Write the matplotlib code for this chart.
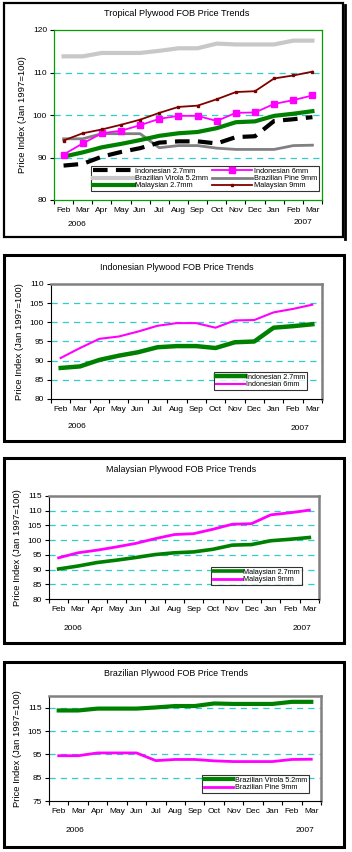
import matplotlib
matplotlib.use("Agg")
import matplotlib.pyplot as plt
from matplotlib.patches import Rectangle
from matplotlib.lines import Line2D

plt.rcParams['font.family'] = ['Liberation Sans', 'DejaVu Sans']

months = ["Feb", "Mar", "Apr", "May", "Jun", "Jul", "Aug", "Sep", "Oct", "Nov", "Dec", "Jan", "Feb", "Mar"]
years = ["2006", "2007"]

indo_27 = [88.1, 88.5, 90.2, 91.3, 92.2, 93.5, 93.8, 93.8, 93.3, 94.8, 95.0, 98.6, 99.0, 99.5]
indo_6 = [90.7, 93.3, 95.7, 96.3, 97.6, 99.1, 99.8, 99.8, 98.6, 100.5, 100.6, 102.6, 103.5, 104.6]
braz_virola = [113.8, 113.8, 114.6, 114.6, 114.6, 115.1, 115.7, 115.7, 116.8, 116.6, 116.6, 116.6, 117.5, 117.5]
braz_pine = [94.4, 94.4, 95.6, 95.6, 95.6, 92.3, 92.8, 92.8, 92.2, 91.9, 91.9, 91.9, 92.8, 92.9]
malay_27 = [90.2, 91.2, 92.4, 93.2, 94.1, 95.1, 95.7, 96.0, 96.9, 98.3, 98.5, 99.8, 100.3, 100.9]
malay_9 = [94.0, 95.7, 96.6, 97.7, 98.9, 100.5, 101.9, 102.2, 103.7, 105.4, 105.6, 108.6, 109.3, 110.2]

W, H = 352, 852
fig = plt.figure(figsize=(W / 100, H / 100), dpi=100)
fig.patch.set_facecolor('white')

x = list(range(len(months)))
FS = 6.0
TEAL = '#33cccc'


def fx(px):
    return px / W


def fy(py):
    return 1 - py / H


def add_box(x0, y0, x1, y1, lw=1.6):
    fig.patches.append(Rectangle((fx(x0), fy(y1)), fx(x1) - fx(x0), fy(y0) - fy(y1),
                                 transform=fig.transFigure, fill=False,
                                 edgecolor='black', linewidth=lw))


def make_axes(x0, y0, x1, y1):
    return fig.add_axes([fx(x0), fy(y1), fx(x1) - fx(x0), fy(y0) - fy(y1)])


def style(ax, ylim, yticks, gridvals, spine_style):
    ax.set_xlim(-0.5, len(months) - 0.5)
    ax.set_ylim(*ylim)
    ax.set_yticks(yticks)
    ax.set_yticklabels([str(v) for v in yticks], fontsize=FS)
    ax.set_xticks(x)
    ax.set_xticklabels(months, fontsize=FS)
    ax.set_xticks([i - 0.5 for i in range(len(months) + 1)], minor=True)
    ax.tick_params(axis='x', which='major', length=0, pad=5)
    ax.tick_params(axis='x', which='minor', length=3, width=0.8, direction='out')
    ax.tick_params(axis='y', length=3, width=0.8, direction='out', pad=2)
    for g in gridvals:
        ax.axhline(g, color=TEAL, lw=0.9, ls=(0, (5, 4)), zorder=0)
    if spine_style == 'green':
        for s in ax.spines.values():
            s.set_color('#00a000')
            s.set_linewidth(0.9)
    else:
        ax.spines['left'].set_color('black')
        ax.spines['bottom'].set_color('black')
        ax.spines['left'].set_linewidth(0.8)
        ax.spines['bottom'].set_linewidth(0.8)
        ax.spines['top'].set_color('#808080')
        ax.spines['right'].set_color('#808080')
        ax.spines['top'].set_linewidth(1.8)
        ax.spines['right'].set_linewidth(1.8)
    ax.set_ylabel("Price Index (Jan 1997=100)", fontsize=6.8, labelpad=4)


def legend(ax, handles, labels, x0, y0, x1, y1, ncol=1, hl=4.0, fs=5.2):
    lg = ax.legend(handles, labels, loc='center',
                   bbox_to_anchor=(fx(x0), fy(y1), fx(x1) - fx(x0), fy(y0) - fy(y1)),
                   bbox_transform=fig.transFigure, ncol=ncol, fontsize=fs,
                   frameon=True, fancybox=False, handlelength=hl, handletextpad=0.2,
                   labelspacing=0.0, columnspacing=0.5, borderpad=0.3, borderaxespad=0)
    lg.get_frame().set_edgecolor('black')
    lg.get_frame().set_linewidth(0.8)
    return lg


# ---------- Panel 1 ----------
add_box(4, 3, 343, 237)
fig.lines.append(Line2D([fx(345), fx(345)], [fy(5), fy(239)], transform=fig.transFigure, color='black', lw=2))
ax1 = make_axes(54, 30, 322, 200)
style(ax1, (80, 120), [80, 90, 100, 110, 120], [90, 100, 110], 'green')
l_i27, = ax1.plot(x, indo_27, color='black', lw=3.0, ls=(0, (3.5, 2)), zorder=3)
l_bv, = ax1.plot(x, braz_virola, color='#c8c8c8', lw=3.0, zorder=2)
l_m27, = ax1.plot(x, malay_27, color='#008000', lw=3.0, zorder=3)
l_i6, = ax1.plot(x, indo_6, color='#ff00ff', lw=1.3, marker='s', ms=4, zorder=4)
l_bp, = ax1.plot(x, braz_pine, color='#808080', lw=2.0, zorder=2)
l_m9, = ax1.plot(x, malay_9, color='#800000', lw=1.3, marker='s', ms=1.6, zorder=4)
legend(ax1, [l_i27, l_bv, l_m27, l_i6, l_bp, l_m9],
       ["Indonesian 2.7mm", "Brazilian Virola 5.2mm", "Malaysian 2.7mm",
        "Indonesian 6mm", "Brazilian Pine 9mm", "Malaysian 9mm"],
       97, 168, 313, 189, ncol=2, hl=5.5, fs=5.3)
fig.text(fx(177), fy(14), "Tropical Plywood FOB Price Trends", ha='center', va='center', fontsize=6.6)
fig.text(fx(77), fy(225), years[0], ha='center', va='center', fontsize=FS)
fig.text(fx(303), fy(223), years[1], ha='center', va='center', fontsize=FS)

# ---------- Panel 2 ----------
add_box(4, 255, 344, 441, lw=2.2)
ax2 = make_axes(51, 284, 322, 399)
style(ax2, (80, 110), [80, 85, 90, 95, 100, 105, 110], [85, 90, 95, 100, 105], 'gray')
a, = ax2.plot(x, indo_27, color='#008000', lw=3.2)
b, = ax2.plot(x, indo_6, color='#ff00ff', lw=1.5)
legend(ax2, [a, b], ["Indonesian 2.7mm", "Indonesian 6mm"], 214, 369, 307, 393)
fig.text(fx(177), fy(267), "Indonesian Plywood FOB Price Trends", ha='center', va='center', fontsize=6.4)
fig.text(fx(77), fy(426), years[0], ha='center', va='center', fontsize=FS)
fig.text(fx(300), fy(428), years[1], ha='center', va='center', fontsize=FS)

# ---------- Panel 3 ----------
add_box(4, 458, 344, 643, lw=2.2)
ax3 = make_axes(49, 496, 319, 599)
style(ax3, (80, 115), [80, 85, 90, 95, 100, 105, 110, 115], [85, 90, 95, 100, 105, 110], 'gray')
a, = ax3.plot(x, malay_27, color='#008000', lw=2.6)
b, = ax3.plot(x, malay_9, color='#ff00ff', lw=2.0)
legend(ax3, [a, b], ["Malaysian 2.7mm", "Malaysian 9mm"], 210, 564, 303, 588)
fig.text(fx(181), fy(469), "Malaysian Plywood FOB Price Trends", ha='center', va='center', fontsize=6.4)
fig.text(fx(73), fy(629), years[0], ha='center', va='center', fontsize=FS)
fig.text(fx(302), fy(629), years[1], ha='center', va='center', fontsize=FS)

# ---------- Panel 4 ----------
add_box(4, 662, 344, 847, lw=2.2)
ax4 = make_axes(49, 696, 321, 801)
style(ax4, (75, 120), [75, 85, 95, 105, 115], [85, 95, 105, 115], 'gray')
a, = ax4.plot(x, braz_virola, color='#008000', lw=3.0)
b, = ax4.plot(x, braz_pine, color='#ff00ff', lw=2.0)
legend(ax4, [a, b], ["Brazilian Virola 5.2mm", "Brazilian Pine 9mm"], 208, 772, 303, 796)
fig.text(fx(176), fy(673), "Brazilian Plywood FOB Price Trends", ha='center', va='center', fontsize=6.4)
fig.text(fx(75), fy(831), years[0], ha='center', va='center', fontsize=FS)
fig.text(fx(305), fy(831), years[1], ha='center', va='center', fontsize=FS)

fig.savefig("out.png", dpi=100, facecolor='white')
